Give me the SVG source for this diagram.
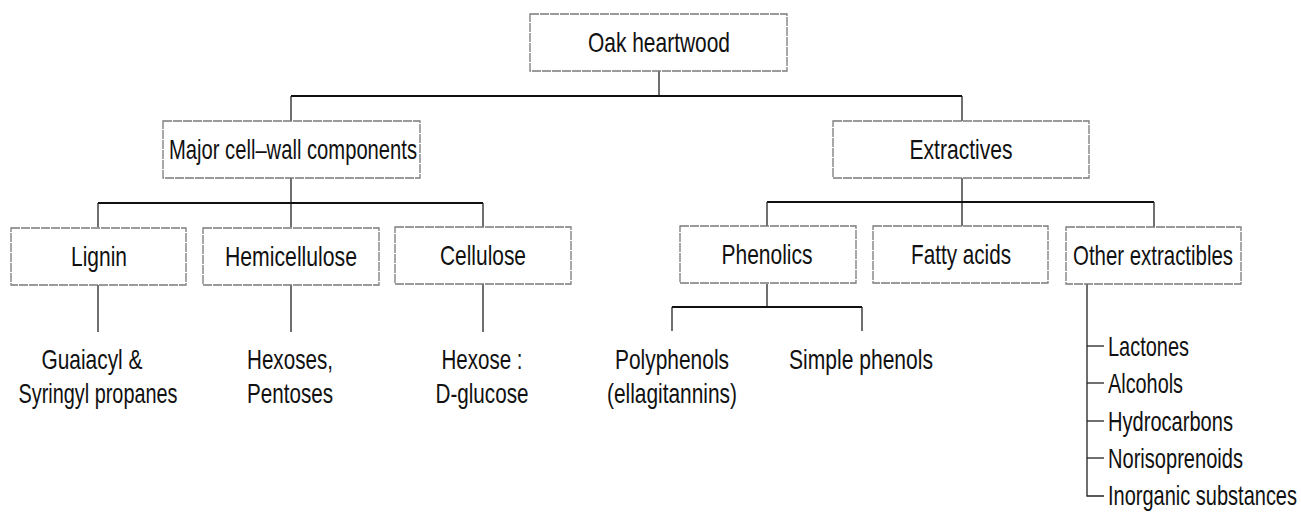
<svg xmlns="http://www.w3.org/2000/svg" width="1301" height="513" viewBox="0 0 1301 513">
<style>
.box{fill:#fff;stroke:#7a7a7a;stroke-width:1.3;stroke-dasharray:9 1}
.t{font-family:"Liberation Sans",Arial,sans-serif;font-size:28px;fill:#111}
.m{text-anchor:middle}
.thick{stroke:#111;stroke-width:2.2;fill:none}
.thin{stroke:#222;stroke-width:1.3;fill:none}
</style>
<rect width="1301" height="513" fill="#fff"/>
<g id="connectors">
<line class="thin" x1="659" y1="71" x2="659" y2="96"/>
<line class="thick" x1="291" y1="96" x2="962" y2="96"/>
<line class="thin" x1="291" y1="96" x2="291" y2="121"/>
<line class="thin" x1="962" y1="96" x2="962" y2="121"/>
<line class="thin" x1="291" y1="178" x2="291" y2="227"/>
<line class="thick" x1="98" y1="203" x2="483" y2="203"/>
<line class="thin" x1="98" y1="203" x2="98" y2="227"/>
<line class="thin" x1="483" y1="203" x2="483" y2="227"/>
<line class="thin" x1="962" y1="178" x2="962" y2="227"/>
<line class="thick" x1="767" y1="202" x2="1154" y2="202"/>
<line class="thin" x1="767" y1="202" x2="767" y2="227"/>
<line class="thin" x1="1154" y1="202" x2="1154" y2="227"/>
<line class="thin" x1="98" y1="284" x2="98" y2="332"/>
<line class="thin" x1="291" y1="284" x2="291" y2="332"/>
<line class="thin" x1="483" y1="284" x2="483" y2="332"/>
<line class="thin" x1="767" y1="284" x2="767" y2="307"/>
<line class="thick" x1="672" y1="307" x2="862" y2="307"/>
<line class="thin" x1="672" y1="307" x2="672" y2="331"/>
<line class="thin" x1="862" y1="307" x2="862" y2="331"/>
<polyline class="thin" points="1087,284 1087,496 1104,496"/>
<line class="thin" x1="1087" y1="346" x2="1104" y2="346"/>
<line class="thin" x1="1087" y1="383" x2="1104" y2="383"/>
<line class="thin" x1="1087" y1="421" x2="1104" y2="421"/>
<line class="thin" x1="1087" y1="458" x2="1104" y2="458"/>
</g>
<g id="oak"><rect class="box" x="530" y="14" width="257" height="57"/><text class="t m" x="659" y="52" textLength="142" lengthAdjust="spacingAndGlyphs">Oak heartwood</text></g>
<g id="major"><rect class="box" x="163" y="121" width="257" height="57"/><text class="t m" x="293" y="159" textLength="248" lengthAdjust="spacingAndGlyphs">Major cell–wall components</text></g>
<g id="extractives"><rect class="box" x="833" y="121" width="256" height="57"/><text class="t m" x="961" y="159" textLength="103" lengthAdjust="spacingAndGlyphs">Extractives</text></g>
<g id="lignin"><rect class="box" x="11" y="228" width="175" height="57"/><text class="t m" x="99" y="266" textLength="56" lengthAdjust="spacingAndGlyphs">Lignin</text></g>
<g id="hemicellulose"><rect class="box" x="203" y="228" width="176" height="57"/><text class="t m" x="291" y="266" textLength="132" lengthAdjust="spacingAndGlyphs">Hemicellulose</text></g>
<g id="cellulose"><rect class="box" x="395" y="227" width="176" height="57"/><text class="t m" x="483" y="265" textLength="86" lengthAdjust="spacingAndGlyphs">Cellulose</text></g>
<g id="phenolics"><rect class="box" x="680" y="226" width="176" height="57"/><text class="t m" x="767" y="264" textLength="91" lengthAdjust="spacingAndGlyphs">Phenolics</text></g>
<g id="fatty"><rect class="box" x="873" y="226" width="175" height="57"/><text class="t m" x="961" y="264" textLength="100" lengthAdjust="spacingAndGlyphs">Fatty acids</text></g>
<g id="other"><rect class="box" x="1066" y="227" width="175" height="57"/><text class="t m" x="1153" y="265" textLength="160" lengthAdjust="spacingAndGlyphs">Other extractibles</text></g>
<g id="lignin-sub"><text class="t m" x="92" y="369" textLength="101" lengthAdjust="spacingAndGlyphs">Guaiacyl &amp;</text><text class="t m" x="98" y="403" textLength="159" lengthAdjust="spacingAndGlyphs">Syringyl propanes</text></g>
<g id="hemi-sub"><text class="t m" x="290" y="369" textLength="86" lengthAdjust="spacingAndGlyphs">Hexoses,</text><text class="t m" x="290" y="403" textLength="86" lengthAdjust="spacingAndGlyphs">Pentoses</text></g>
<g id="cell-sub"><text class="t m" x="482" y="369" textLength="81" lengthAdjust="spacingAndGlyphs">Hexose :</text><text class="t m" x="482" y="403" textLength="93" lengthAdjust="spacingAndGlyphs">D-glucose</text></g>
<g id="polyphenols"><text class="t m" x="672" y="369" textLength="114" lengthAdjust="spacingAndGlyphs">Polyphenols</text><text class="t m" x="672" y="403" textLength="130" lengthAdjust="spacingAndGlyphs">(ellagitannins)</text></g>
<g id="simple"><text class="t m" x="861" y="369" textLength="144" lengthAdjust="spacingAndGlyphs">Simple phenols</text></g>
<g id="other-list">
<text class="t" x="1108" y="356" textLength="81" lengthAdjust="spacingAndGlyphs">Lactones</text>
<text class="t" x="1108" y="393" textLength="75" lengthAdjust="spacingAndGlyphs">Alcohols</text>
<text class="t" x="1108" y="431" textLength="125" lengthAdjust="spacingAndGlyphs">Hydrocarbons</text>
<text class="t" x="1108" y="468" textLength="135" lengthAdjust="spacingAndGlyphs">Norisoprenoids</text>
<text class="t" x="1108" y="505" textLength="189" lengthAdjust="spacingAndGlyphs">Inorganic substances</text>
</g>
</svg>
